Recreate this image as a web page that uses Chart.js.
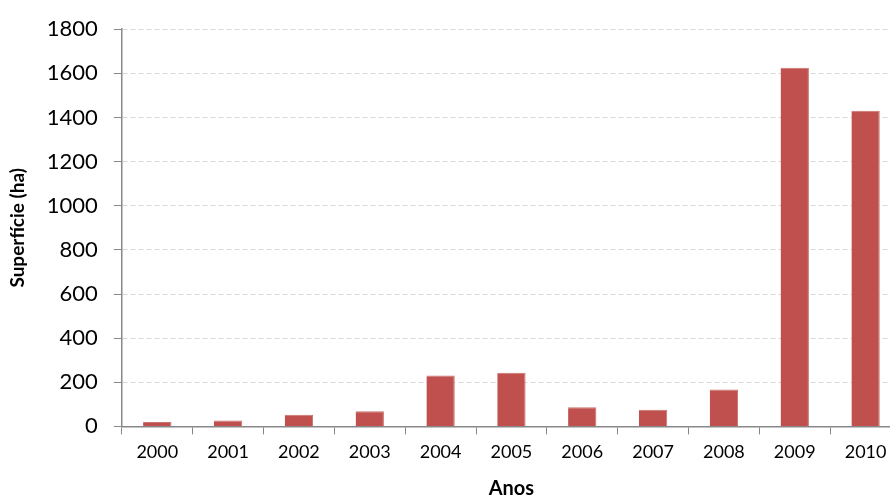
<!DOCTYPE html>
<html>
<head>
<meta charset="utf-8">
<script src="https://cdn.jsdelivr.net/npm/chart.js@4.4.0/dist/chart.umd.min.js"></script>
<style>
  html, body { margin: 0; padding: 0; background: #fff; overflow: hidden; }
  #wrap { width: 890px; height: 501px; overflow: hidden; }
</style>
</head>
<body>
<div id="wrap"><canvas id="chart" width="901" height="501"></canvas></div>
<script>
// area per year (ha)
const anos = ["2000","2001","2002","2003","2004","2005","2006","2007","2008","2009","2010"];
const superficie = [20, 27, 53, 69, 231, 243, 87, 75, 167, 1625, 1431];
const yMax = 1800;
const yStep = 200;

const font = "Lato, 'Open Sans', sans-serif";

// the original plot runs a little past the right edge, so the canvas is wider than the window
new Chart(document.getElementById("chart"), {
  type: "bar",
  data: {
    labels: anos,
    datasets: [{
      data: superficie,
      backgroundColor: "#c0504d",
      borderColor: "#c9716e",
      borderWidth: { top: 1, right: 1, left: 0, bottom: 0 },
      barPercentage: 0.4,
      categoryPercentage: 1
    }]
  },
  options: {
    responsive: false,
    animation: false,
    layout: { padding: { left: 6, right: 0, top: 12, bottom: 0 } },
    plugins: { legend: { display: false }, tooltip: { enabled: false } },
    scales: {
      x: {
        grid: { drawOnChartArea: false, drawTicks: true, tickLength: 8, color: "#888", offset: true },
        border: { color: "#888", width: 1.5 },
        ticks: { color: "#000", font: { family: font, size: 18 }, padding: 7, maxRotation: 0 },
        title: { display: true, text: "Anos", color: "#000", font: { family: font, size: 20, weight: "bold" }, padding: { top: 7, bottom: 0 } }
      },
      y: {
        min: 0,
        max: yMax,
        ticks: { stepSize: yStep, color: "#000", font: { family: font, size: 22 }, padding: 16,
                 callback: v => String(v) },
        grid: { color: "#d9d9d9", tickColor: "#888", tickLength: 8, tickBorderDash: [] },
        border: { color: "#888", width: 1.5, dash: [5, 3] },
        title: { display: true, text: "Superfície (ha)", color: "#000", font: { family: font, size: 19, weight: "bold" }, padding: { top: 0, bottom: 2 } }
      }
    }
  }
});
</script>
</body>
</html>
